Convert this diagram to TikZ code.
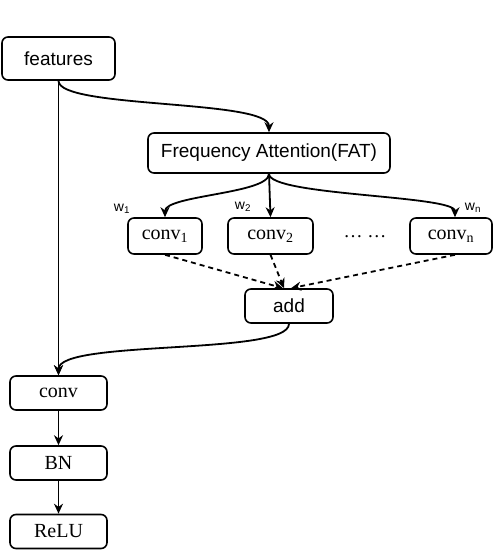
\documentclass[tikz,border=0pt]{standalone}
\usepackage{fontspec}
\setmainfont{Liberation Sans}
\newfontfamily\serfont{Liberation Serif}
\usetikzlibrary{arrows.meta}

\tikzstyle{block}=[draw, line width=1.6pt, rounded corners=6pt, inner sep=0pt, font=\fontsize{19}{22}\selectfont]
\tikzstyle{sblock}=[block, font=\fontsize{20}{23}\selectfont\serfont]
\tikzstyle{arrow}=[line width=1.8pt, -{Stealth[length=10pt,width=9pt]}]
\tikzstyle{darrow}=[arrow, dashed, dash pattern=on 5pt off 4pt]
\tikzstyle{weight}=[font=\fontsize{14}{16}\selectfont]

\begin{document}
\begin{tikzpicture}[x=1pt, y=-1pt]
      \useasboundingbox (0,0) rectangle (498,550);

      \node[block, minimum width=113pt, minimum height=43pt] (feat) at (58.5, 58.5) {features};
      \node[block, minimum width=242pt, minimum height=40pt] (fat) at (269, 153) {Frequency Attention(FAT)};
      \node[sblock, minimum width=74pt, minimum height=36pt] (c1) at (165, 236) {conv\textsubscript{1}};
      \node[sblock, minimum width=85pt, minimum height=36pt] (c2) at (270.5, 236) {conv\textsubscript{2}};
      \node[font=\fontsize{19}{22}\selectfont\serfont] (dots) at (365, 237) {… …};
      \node[sblock, minimum width=82pt, minimum height=36pt] (cn) at (451, 236) {conv\textsubscript{n}};
      \node[block, minimum width=88pt, minimum height=34pt] (add) at (289, 306) {add};
      \node[sblock, minimum width=97pt, minimum height=34pt] (conv) at (58.5, 393) {conv};
      \node[sblock, minimum width=97pt, minimum height=34pt] (bn) at (58.5, 463) {BN};
      \node[sblock, minimum width=97pt, minimum height=34pt] (relu) at (58.5, 531.5) {ReLU};

      \node[weight] (w1) at (122, 209) {w\textsubscript{1}};
      \node[weight] (w2) at (243, 207) {w\textsubscript{2}};
      \node[weight] (wn) at (473, 208) {w\textsubscript{n}};

      \draw[arrow] (feat.south) to (conv.north);
      \draw[arrow] (feat.south) .. controls +(0,28) and +(0,-33) .. (fat.north);
      \draw[arrow] (fat.south) .. controls +(0,20) and +(0,-22) .. (c1.north);
      \draw[arrow] (fat.south) to (c2.north);
      \draw[arrow] (fat.south) .. controls +(0,22) and +(0,-22) .. ([xshift=4pt]cn.north);
      \draw[darrow] (c1.south) to ([xshift=-6pt]add.north);
      \draw[darrow] (c2.south) to ([xshift=-5pt]add.north);
      \draw[darrow] ([xshift=4pt]cn.south) to ([xshift=2pt]add.north);
      \draw[arrow] (add.south) .. controls +(0,32) and +(0,-36) .. (conv.north);
      \draw[arrow] (conv) to (bn);
      \draw[arrow] (bn) to (relu);
    \end{tikzpicture}
\end{document}
